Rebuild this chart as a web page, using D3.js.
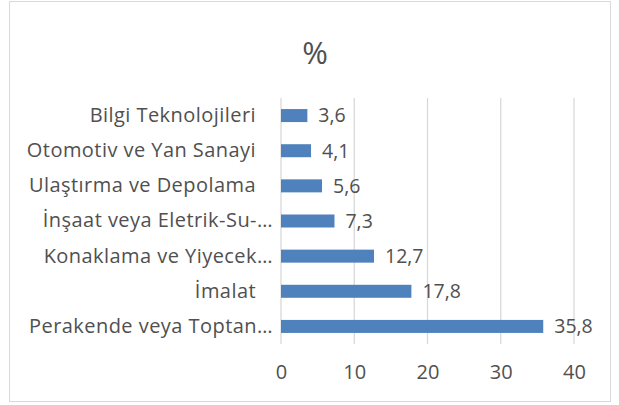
<!DOCTYPE html>
<html>
<head>
<meta charset="utf-8">
<script src="https://cdn.jsdelivr.net/npm/d3@7"></script>
<style>
  body { margin: 0; background: #fff; }
  text { font-family: "Open Sans", sans-serif; fill: #505050; }
</style>
</head>
<body>
<div id="chart"></div>
<script>
// Data (trailing spaces as in the original labels)
const categories = [
    "Bilgi Teknolojileri\u00a0\u00a0\u00a0",
    "Otomotiv ve Yan Sanayi\u00a0\u00a0\u00a0",
    "Ulaştırma ve Depolama\u00a0\u00a0\u00a0",
    "İnşaat veya Eletrik-Su-…",
    "Konaklama ve Yiyecek…",
    "İmalat\u00a0\u00a0\u00a0",
    "Perakende veya Toptan…"
];
const values = [3.6, 4.1, 5.6, 7.3, 12.7, 17.8, 35.8];
const ticks = [0, 10, 20, 30, 40];
const title = "%";

const width = 619;
const height = 405;
const margin = { top: 98, right: 45, bottom: 61, left: 281 };

const svg = d3.select("#chart")
    .append("svg")
    .attr("width", width)
    .attr("height", height);

// chart border
svg.append("rect")
    .attr("x", 9.5).attr("y", 1.5)
    .attr("width", 601).attr("height", 400)
    .attr("fill", "none")
    .attr("stroke", "#d9d9d9");

// title
svg.append("text")
    .attr("x", 315).attr("y", 64)
    .attr("text-anchor", "middle")
    .style("font-size", "31px")
    .text(title);

const data = categories.map((c, i) => ({ cat: c, val: values[i] }));

const x = d3.scaleLinear()
    .domain([0, 40])
    .range([margin.left, width - margin.right]);

const y = d3.scaleBand()
    .domain(categories)
    .range([margin.top, height - margin.bottom])
    .paddingInner(0.63)
    .paddingOuter(0.315);

// gridlines
svg.append("g")
    .selectAll("line")
    .data(ticks)
    .enter()
    .append("line")
    .attr("x1", d => x(d)).attr("x2", d => x(d))
    .attr("y1", margin.top).attr("y2", height - margin.bottom)
    .attr("stroke", "#d9d9d9")
    .attr("stroke-width", 1.3);

// x axis tick labels
const xAxis = svg.append("g")
    .attr("transform", `translate(0,${height - margin.bottom})`)
    .call(d3.axisBottom(x).tickValues(ticks).tickSize(0).tickPadding(21));
xAxis.select(".domain").remove();
xAxis.selectAll("text")
    .style("font-size", "20px")
    .style("font-family", "Open Sans, sans-serif")
    .attr("fill", "#505050");

// y axis category labels
const yAxis = svg.append("g")
    .attr("transform", `translate(${margin.left},0)`)
    .call(d3.axisLeft(y).tickSize(0).tickPadding(8));
yAxis.select(".domain").remove();
yAxis.selectAll("text")
    .style("font-size", "20px")
    .style("letter-spacing", "0.45px")
    .style("font-family", "Open Sans, sans-serif")
    .attr("fill", "#505050");

// bars
svg.selectAll(".bar")
    .data(data)
    .enter()
    .append("rect")
    .attr("class", "bar")
    .attr("x", x(0))
    .attr("y", d => y(d.cat))
    .attr("width", d => x(d.val) - x(0))
    .attr("height", y.bandwidth())
    .attr("fill", "#4f81bd");

// value labels
svg.selectAll(".lbl")
    .data(data)
    .enter()
    .append("text")
    .attr("class", "lbl")
    .attr("x", d => x(d.val) + 11)
    .attr("y", d => y(d.cat) + y.bandwidth() / 2)
    .attr("dy", "0.35em")
    .style("font-size", "19.5px")
    .text(d => d3.format(".1f")(d.val).replace(".", ","));
</script>
</body>
</html>
